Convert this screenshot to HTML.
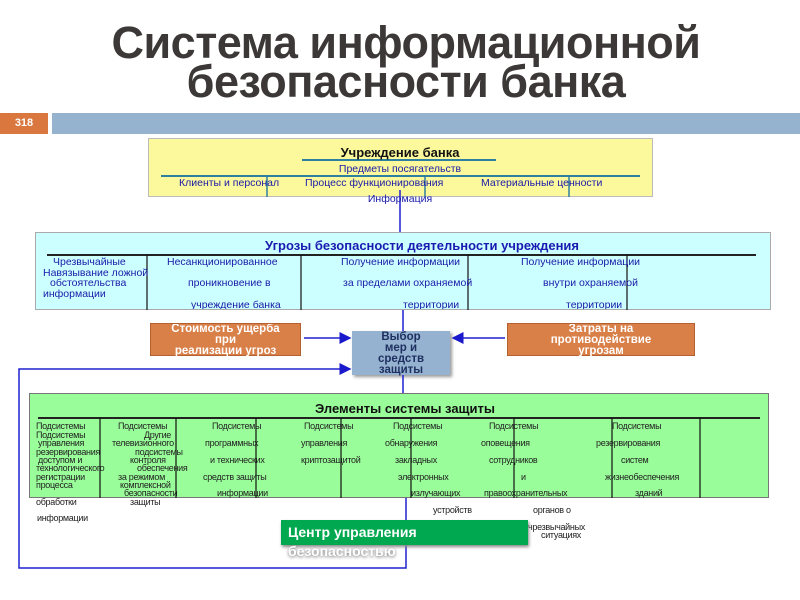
<!DOCTYPE html>
<html><head><meta charset="utf-8"><style>
*{margin:0;padding:0;box-sizing:border-box}
body{width:800px;height:600px;background:#fff;position:relative;overflow:hidden;font-family:"Liberation Sans",sans-serif}
.a{position:absolute;white-space:nowrap}
.t{position:absolute;left:0;width:812px;text-align:center;font-weight:bold;font-size:45px;color:#3d3838;letter-spacing:-0.5px}
.b{position:absolute}
.c{color:#1a1aa8;font-size:10.5px}
.g{color:#222;font-size:9px;letter-spacing:-0.3px}
</style></head><body>
<div class="t" style="top:17px">Система информационной</div>
<div class="t" style="top:56px">безопасности банка</div>
<div class="b" style="left:0;top:113px;width:48px;height:21px;background:#d9773e;color:#fff;font-size:11px;font-weight:bold;text-align:center;line-height:21px">318</div>
<div class="b" style="left:52px;top:113px;width:748px;height:21px;background:#95b3cf"></div>

<div class="b" style="left:148px;top:138px;width:505px;height:59px;background:#fbf99c;border:1px solid #bbb"></div>
<div class="b" style="left:35px;top:232px;width:736px;height:78px;background:#ccffff;border:1px solid #aaa;overflow:hidden"></div>
<div class="b" style="left:150px;top:323px;width:151px;height:33px;background:#d97f48;border:1px solid #b56030"></div>
<div class="b" style="left:507px;top:323px;width:188px;height:33px;background:#d97f48;border:1px solid #b56030"></div>
<div class="b" style="left:352px;top:331px;width:98px;height:44px;background:#95b3d1;box-shadow:2px 2px 3px #999"></div>
<div class="b" style="left:29px;top:393px;width:740px;height:105px;background:#99fe99;border:1px solid #777"></div>

<svg class="b" style="left:0;top:0" width="800" height="600">
<defs><marker id="m" markerWidth="8" markerHeight="8" refX="7" refY="4" orient="auto"><path d="M0,0 L8,4 L0,8 z" fill="#1a1acc"/></marker></defs>
<g stroke="#2e7fa0" stroke-width="2"><line x1="302" y1="160" x2="496" y2="160"/><line x1="161" y1="176" x2="640" y2="176"/></g>
<g stroke="#2e7fa0" stroke-width="1.5"><line x1="267" y1="176" x2="267" y2="197"/><line x1="425" y1="176" x2="425" y2="197"/><line x1="569" y1="176" x2="569" y2="197"/></g>
<g stroke="#2020d0" stroke-width="1.5" fill="none">
<line x1="400" y1="190" x2="400" y2="232"/><line x1="403" y1="310" x2="403" y2="331"/><line x1="403" y1="375" x2="403" y2="393"/>
<line x1="304" y1="338" x2="350" y2="338" marker-end="url(#m)"/><line x1="505" y1="338" x2="453" y2="338" marker-end="url(#m)"/>
<polyline points="406,498 406,568 19,568 19,369 350,369" marker-end="url(#m)"/>
</g>
<g stroke="#222" stroke-width="2"><line x1="47" y1="255" x2="756" y2="255"/><line x1="38" y1="418" x2="760" y2="418"/></g>
<g stroke="#111" stroke-width="1.2"><line x1="147" y1="255" x2="147" y2="310"/><line x1="301" y1="255" x2="301" y2="310"/><line x1="468" y1="255" x2="468" y2="310"/><line x1="627" y1="255" x2="627" y2="310"/>
<line x1="100" y1="418" x2="100" y2="498"/><line x1="176" y1="418" x2="176" y2="498"/><line x1="256" y1="418" x2="256" y2="498"/><line x1="341" y1="418" x2="341" y2="498"/><line x1="411" y1="418" x2="411" y2="498"/><line x1="514" y1="418" x2="514" y2="498"/><line x1="612" y1="418" x2="612" y2="498"/><line x1="700" y1="418" x2="700" y2="498"/></g>
</svg>

<div class="a" style="left:0;width:800px;text-align:center;top:145px;font-size:13px;font-weight:bold;color:#111">Учреждение банка</div>
<div class="a c" style="left:0;width:800px;text-align:center;top:163px">Предметы посягательств</div>
<div class="a c" style="left:179px;top:177px">Клиенты и персонал</div>
<div class="a c" style="left:305px;top:177px">Процесс функционирования</div>
<div class="a c" style="left:481px;top:177px">Материальные ценности</div>
<div class="a c" style="left:0;width:800px;text-align:center;top:193px">Информация</div>

<div class="a" style="left:265px;top:238px;font-size:13px;font-weight:bold;color:#1a1ab0">Угрозы безопасности деятельности учреждения</div>
<div class="a c" style="left:53px;top:256px">Чрезвычайные</div>
<div class="a c" style="left:167px;top:256px">Несанкционированное</div>
<div class="a c" style="left:341px;top:256px">Получение информации</div>
<div class="a c" style="left:521px;top:256px">Получение информации</div>
<div class="a c" style="left:43px;top:267px">Навязывание ложной</div>
<div class="a c" style="left:50px;top:277px">обстоятельства</div>
<div class="a c" style="left:188px;top:277px">проникновение в</div>
<div class="a c" style="left:343px;top:277px">за пределами охраняемой</div>
<div class="a c" style="left:543px;top:277px">внутри охраняемой</div>
<div class="a c" style="left:43px;top:288px">информации</div>
<div class="a c" style="left:191px;top:299px;height:10px;overflow:hidden">учреждение банка</div>
<div class="a c" style="left:403px;top:299px;height:10px;overflow:hidden">территории</div>
<div class="a c" style="left:566px;top:299px;height:10px;overflow:hidden">территории</div>

<div class="a" style="left:150px;top:324px;width:151px;height:32px;overflow:hidden;text-align:center;color:#fff;font-weight:bold;font-size:11.5px;line-height:11px">Стоимость ущерба<br>при<br>реализации угроз</div>
<div class="a" style="left:507px;top:324px;width:188px;height:32px;overflow:hidden;text-align:center;color:#fff;font-weight:bold;font-size:11.5px;line-height:11px">Затраты на<br>противодействие<br>угрозам</div>
<div class="a" style="left:352px;top:332px;width:98px;text-align:center;color:#1f3060;font-weight:bold;font-size:11.5px;line-height:11px">Выбор<br>мер и<br>средств<br>защиты</div>

<div class="a" style="left:0;width:810px;text-align:center;top:401px;font-size:13px;font-weight:bold;color:#111">Элементы системы защиты</div>
<div class="a g" style="left:36px;top:421px">Подсистемы</div><div class="a g" style="left:118px;top:421px">Подсистемы</div><div class="a g" style="left:212px;top:421px">Подсистемы</div><div class="a g" style="left:304px;top:421px">Подсистемы</div><div class="a g" style="left:393px;top:421px">Подсистемы</div><div class="a g" style="left:489px;top:421px">Подсистемы</div><div class="a g" style="left:612px;top:421px">Подсистемы</div>
<div class="a g" style="left:36px;top:430px">Подсистемы</div><div class="a g" style="left:144px;top:430px">Другие</div>
<div class="a g" style="left:38px;top:438px">управления</div><div class="a g" style="left:112px;top:438px">телевизионного</div><div class="a g" style="left:205px;top:438px">программных</div><div class="a g" style="left:301px;top:438px">управления</div><div class="a g" style="left:385px;top:438px">обнаружения</div><div class="a g" style="left:481px;top:438px">оповещения</div><div class="a g" style="left:596px;top:438px">резервирования</div>
<div class="a g" style="left:36px;top:447px">резервирования</div><div class="a g" style="left:135px;top:447px">подсистемы</div>
<div class="a g" style="left:38px;top:455px">доступом и</div><div class="a g" style="left:130px;top:455px">контроля</div><div class="a g" style="left:210px;top:455px">и технических</div><div class="a g" style="left:301px;top:455px">криптозащитой</div><div class="a g" style="left:395px;top:455px">закладных</div><div class="a g" style="left:489px;top:455px">сотрудников</div><div class="a g" style="left:621px;top:455px">систем</div>
<div class="a g" style="left:36px;top:463px">технологического</div><div class="a g" style="left:137px;top:463px">обеспечения</div>
<div class="a g" style="left:36px;top:472px">регистрации</div><div class="a g" style="left:118px;top:472px">за режимом</div><div class="a g" style="left:203px;top:472px">средств защиты</div><div class="a g" style="left:398px;top:472px">электронных</div><div class="a g" style="left:521px;top:472px">и</div><div class="a g" style="left:605px;top:472px">жизнеобеспечения</div>
<div class="a g" style="left:36px;top:480px">процесса</div><div class="a g" style="left:120px;top:480px">комплексной</div>
<div class="a g" style="left:124px;top:488px">безопасности</div><div class="a g" style="left:217px;top:488px">информации</div><div class="a g" style="left:411px;top:488px">излучающих</div><div class="a g" style="left:484px;top:488px">правоохранительных</div><div class="a g" style="left:635px;top:488px">зданий</div>
<div class="a g" style="left:36px;top:497px">обработки</div><div class="a g" style="left:130px;top:497px">защиты</div>
<div class="a g" style="left:433px;top:505px">устройств</div><div class="a g" style="left:533px;top:505px">органов о</div>
<div class="a g" style="left:37px;top:513px">информации</div>
<div class="a g" style="left:528px;top:522px">чрезвычайных</div>
<div class="a g" style="left:541px;top:530px">ситуациях</div>

<div class="b" style="left:281px;top:520px;width:247px;height:25px;background:#00a84f;box-shadow:1px 2px 3px #888"></div>
<div class="a" style="left:288px;top:524px;color:#fff;font-weight:bold;font-size:14px">Центр управления</div>
<div class="a" style="left:288px;top:543px;color:#fff;font-weight:bold;font-size:14px;text-shadow:0 1px 3px #666">безопасностью</div>
</body></html>
